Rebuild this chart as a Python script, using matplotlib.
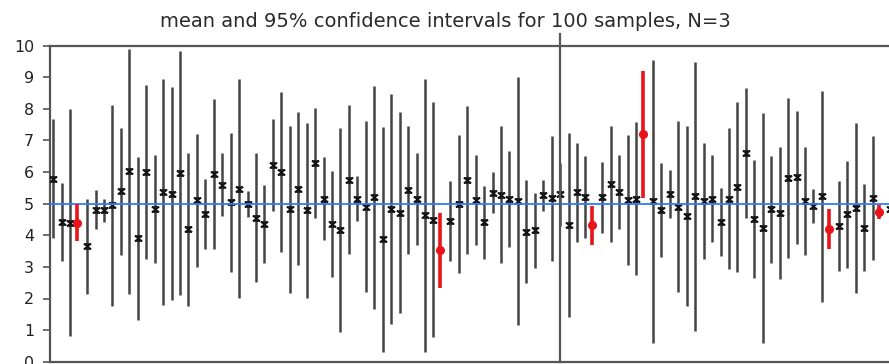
import matplotlib
matplotlib.use("Agg")
import matplotlib.pyplot as plt
import numpy as np
from matplotlib.path import Path

# sample index 1..100
samples = list(range(1, 101))

# sample means
means = [5.79, 4.42, 4.40, 4.40, 3.65, 4.81, 4.79, 4.95, 5.39, 6.03,
         3.90, 6.01, 4.83, 5.37, 5.32, 5.97, 4.19, 5.11, 4.67, 5.93,
         5.60, 5.04, 5.48, 4.99, 4.56, 4.36, 6.22, 6.00, 4.82, 5.48,
         4.79, 6.29, 5.16, 4.36, 4.17, 5.76, 5.16, 4.91, 5.21, 3.87,
         4.83, 4.72, 5.43, 5.15, 4.63, 4.49, 3.52, 4.45, 5.00, 5.76,
         5.11, 4.41, 5.35, 5.29, 5.15, 5.08, 4.12, 4.16, 5.26, 5.17,
         5.30, 4.32, 5.36, 5.20, 4.32, 5.20, 5.63, 5.37, 5.12, 5.16,
         7.20, 5.08, 4.79, 5.31, 4.90, 4.62, 5.23, 5.08, 5.16, 4.42,
         5.16, 5.53, 6.60, 4.52, 4.23, 4.82, 4.71, 5.82, 5.84, 5.10,
         4.93, 5.23, 4.21, 4.29, 4.66, 4.86, 4.24, 5.17, 4.73, 4.84]

# half-width of the 95% confidence interval
halfwidth = [1.89, 1.24, 3.59, 0.58, 1.51, 0.62, 0.37, 3.18, 2.00, 3.88,
             2.59, 2.75, 1.72, 3.58, 3.38, 3.85, 2.42, 2.10, 1.10, 2.37,
             1.00, 2.20, 3.46, 0.42, 2.03, 1.23, 1.45, 2.53, 2.65, 2.41,
             2.77, 1.75, 1.32, 1.68, 3.24, 2.35, 0.72, 2.70, 3.53, 3.55,
             3.64, 3.19, 2.03, 1.46, 4.32, 3.72, 1.20, 1.26, 2.18, 2.34,
             1.43, 1.15, 0.64, 2.18, 1.51, 3.93, 1.62, 1.19, 0.48, 1.97,
             1.00, 2.91, 1.56, 1.30, 0.62, 1.12, 1.84, 1.16, 2.06, 2.41,
             2.01, 4.48, 1.49, 0.77, 2.71, 2.85, 4.25, 1.83, 1.38, 1.08,
             2.24, 2.68, 2.05, 1.87, 3.63, 1.70, 2.10, 2.53, 2.10, 1.71,
             0.53, 3.34, 0.63, 1.43, 1.69, 2.69, 1.38, 1.96, 0.22, 1.38]

# intervals that miss the true mean (drawn in red)
missed = [4, 47, 65, 71, 93, 99]

true_mean = 5.0
axis_cross = 61
title = "mean and 95% confidence intervals for 100 samples, N=3"
yticks = list(range(0, 11))

W, H = 889, 364
fig = plt.figure(figsize=(W / 100, H / 100), dpi=100)
ax = fig.add_axes([50 / W, 2.3 / H, 1 - 50 / W, (361.7 - 45.7) / H])

x = np.array(samples, dtype=float)
m = np.array(means)
h = np.array(halfwidth)

hourglass = Path([(-1, 0.7), (1, 0.7), (-1, -0.7), (1, -0.7),
                  (-1, 0.7), (1, -0.7), (1, 0.7), (-1, -0.7)],
                 [Path.MOVETO, Path.LINETO, Path.MOVETO, Path.LINETO,
                  Path.MOVETO, Path.LINETO, Path.MOVETO, Path.LINETO])

black_idx = [i for i in range(len(samples)) if samples[i] not in missed]
red_idx = [i for i in range(len(samples)) if samples[i] in missed]

ax.vlines(x[black_idx], m[black_idx] - h[black_idx], m[black_idx] + h[black_idx],
          colors="#444444", linewidth=1.8, zorder=2)
ax.plot(x[black_idx], m[black_idx], linestyle="none", marker=hourglass,
        markersize=5.2, markeredgewidth=1.1, color="#111111", zorder=3)

xr = x[red_idx] - 0.22
ax.vlines(xr, m[red_idx] - h[red_idx], m[red_idx] + h[red_idx],
          colors="#e8141a", linewidth=2.6, zorder=4)
ax.plot(xr, m[red_idx], linestyle="none", marker="o", markersize=5.5,
        color="#e8141a", zorder=5)

ax.axhline(true_mean, color="#2f7cf6", linewidth=1.3, zorder=3.5)
ax.plot([axis_cross, axis_cross], [0, 10.37], color="#555555", linewidth=1.6,
        clip_on=False, zorder=6)

ax.set_xlim(0.609, 99.94)
ax.set_ylim(0, 10)
ax.set_yticks(yticks)
ax.set_yticklabels([str(t) for t in yticks])
ax.set_xticks([])
for s in ["top", "bottom", "left"]:
    ax.spines[s].set_color("#555555")
    ax.spines[s].set_linewidth(1.6)
ax.spines["right"].set_visible(False)
ax.tick_params(axis="y", length=5, width=1.2, color="#555555", pad=6.5,
               labelsize=11.4, labelcolor="#222222")

fig.text(445 / W, 1 - 26.7 / H, title, ha="center", va="baseline",
         fontsize=14, color="#2a2a2a")

fig.savefig("out.png", dpi=100)
